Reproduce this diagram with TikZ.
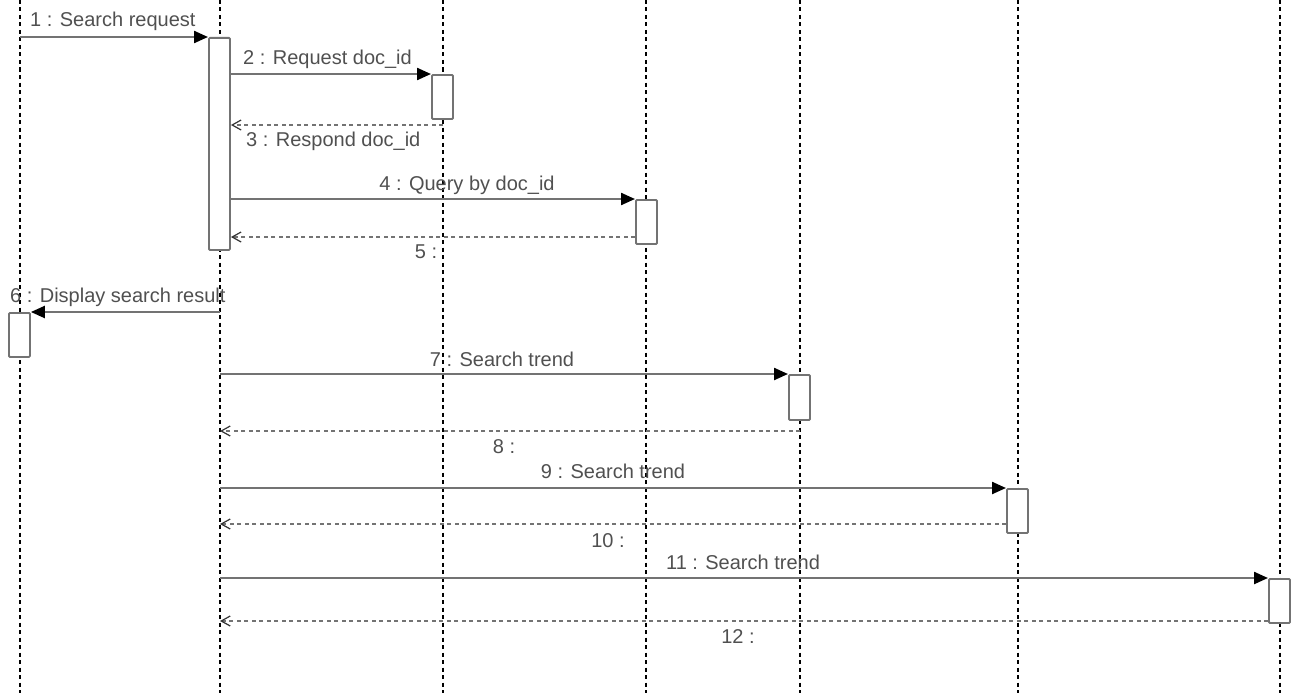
\documentclass[tikz,border=0pt]{standalone}
\usepackage{fontspec}
\setmainfont{Liberation Sans}
\usetikzlibrary{arrows.meta}
\definecolor{linegray}{HTML}{737373}
\definecolor{textgray}{HTML}{505050}
\tikzset{
  lifeline/.style={draw=black, line width=1.3pt, dash pattern=on 4pt off 3.5pt},
  actbox/.style={draw=linegray, fill=white, line width=1.9pt, rounded corners=1pt, minimum width=21pt, inner sep=0pt, anchor=north west},
  msg/.style={draw=linegray, line width=2.3pt, -{Triangle[length=14pt,width=12pt,fill=black,color=black]}},
  ret/.style={draw=linegray, line width=2pt, dash pattern=on 4pt off 3.5pt, -{Straight Barb[length=9pt,width=10pt,line width=1.2pt,color=black!80]}},
  lbl/.style={text=textgray, font=\fontsize{20pt}{22pt}\selectfont, inner sep=0pt}
}
\begin{document}
\begin{tikzpicture}[x=1pt,y=-1pt]
\useasboundingbox (0,0) rectangle (1292,693);
% lifelines
\foreach \n/\x in {1/20,2/220,3/443,4/646,5/800,6/1018,7/1280}{
  \coordinate (T\n) at (\x,0);
  \coordinate (B\n) at (\x,693);
  \draw[lifeline] (T\n) -- (B\n);
}
% activation boxes
\node[actbox, minimum height=212pt] (A2) at (208,37) {};
\node[actbox, minimum height=44pt] (A3) at (431,74) {};
\node[actbox, minimum height=44pt] (A4) at (635,199) {};
\node[actbox, minimum height=44pt] (A1) at (8,312) {};
\node[actbox, minimum height=45pt] (A5) at (788,374) {};
\node[actbox, minimum height=44pt] (A6) at (1006,488) {};
\node[actbox, minimum height=44pt] (A7) at (1268,578) {};
% messages
\draw[msg] (T1 |- A2.north west) -- (A2.north west);
\node[lbl, anchor=base west] (m1) at (30,27) {1 : Search request};
\draw[msg] (A2.east |- A3.north west) -- (A3.north west);
\node[lbl, anchor=base west] (m2) at (243,65) {2 : Request doc\_id};
\coordinate (r3) at (443,125);
\draw[ret] (r3) -- (A2.east |- r3);
\node[lbl, anchor=base west] (m3) at (246,146) {3 : Respond doc\_id};
\draw[msg] (A2.east |- A4.north west) -- (A4.north west);
\node[lbl, anchor=base] (m4) at (467,190) {4 : Query by doc\_id};
\coordinate (r5) at (635,237);
\draw[ret] (r5) -- (A2.east |- r5);
\node[lbl, anchor=base] (m5) at (426,258) {5 :};
\draw[msg] (T2 |- A1.north east) -- (A1.north east);
\node[lbl, anchor=base west] (m6) at (10,302) {6 : Display search result};
\draw[msg] (T2 |- A5.north west) -- (A5.north west);
\node[lbl, anchor=base] (m7) at (502,366) {7 : Search trend};
\coordinate (r8) at (800,431);
\draw[ret] (r8) -- (T2 |- r8);
\node[lbl, anchor=base] (m8) at (504,453) {8 :};
\draw[msg] (T2 |- A6.north west) -- (A6.north west);
\node[lbl, anchor=base] (m9) at (613,478) {9 : Search trend};
\coordinate (r10) at (1006,524);
\draw[ret] (r10) -- (T2 |- r10);
\node[lbl, anchor=base] (m10) at (608,547) {10 :};
\draw[msg] (T2 |- A7.north west) -- (A7.north west);
\node[lbl, anchor=base] (m11) at (743,569) {11 : Search trend};
\coordinate (r12) at (1268,621);
\draw[ret] (r12) -- (T2 |- r12);
\node[lbl, anchor=base] (m12) at (738,643) {12 :};
\end{tikzpicture}
\end{document}
